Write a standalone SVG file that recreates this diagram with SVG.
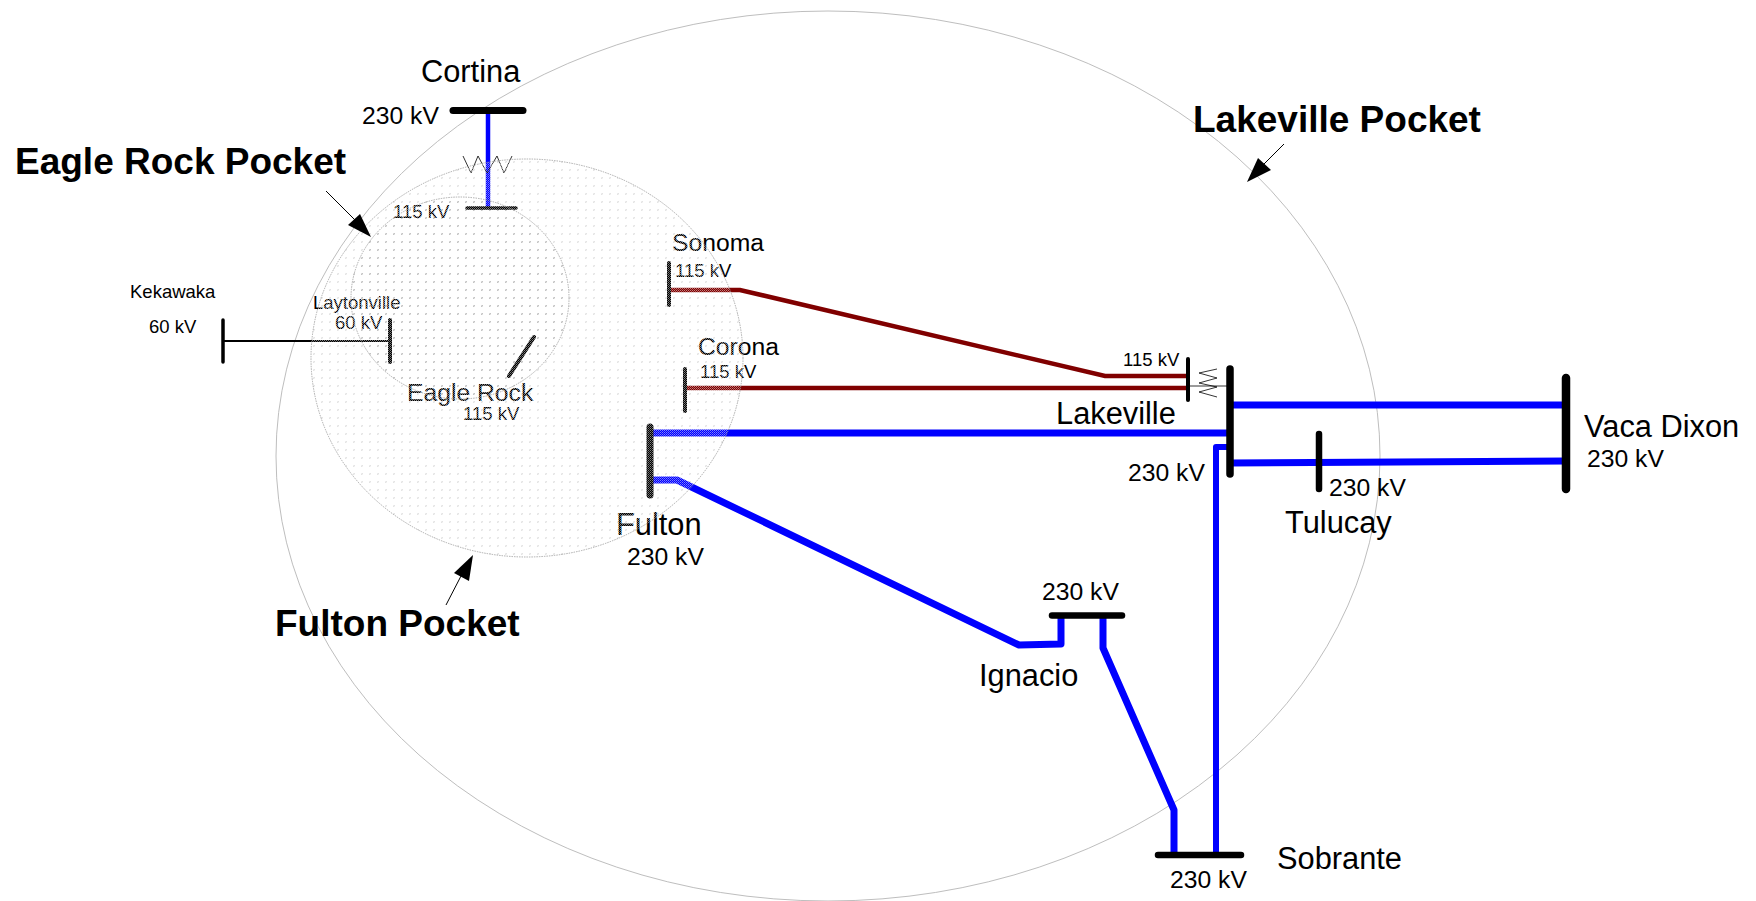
<svg xmlns="http://www.w3.org/2000/svg" width="1756" height="901" viewBox="0 0 1756 901">
<style>
text{font-family:"Liberation Sans",Arial,sans-serif;fill:#000}
.s{font-size:18.500px}.m{font-size:24.700px}.l{font-size:30.800px}.h{font-size:37px;font-weight:bold}
.bus{stroke:#000;stroke-linecap:round;fill:none}
.b{stroke:#00f;fill:none;stroke-linejoin:round}
.r{stroke:#800000;stroke-width:4.500;fill:none}
.z{stroke:#000;stroke-width:.8;fill:none}
.a{stroke:#000;stroke-width:1;fill:none}
.c{stroke:#bebebe;stroke-width:1;fill:none}
.o{stroke:#999;stroke-width:.8;stroke-dasharray:1.500 1}
</style>
<defs>
<pattern id="mesh" width="2" height="2" patternUnits="userSpaceOnUse"><rect width="1" height="1" fill="#fff" opacity=".5"/><rect x="1" y="1" width="1" height="1" fill="#fff" opacity=".35"/></pattern>
<pattern id="dots" width="8" height="8" patternUnits="userSpaceOnUse"><rect x="1" y="1" width="2" height="2" fill="#e4e4e4"/></pattern>
<pattern id="dots2" width="8" height="8" patternUnits="userSpaceOnUse"><rect x="1" y="1" width="2" height="2" fill="#c4c4c4"/></pattern>
</defs>
<rect width="1756" height="901" fill="#fff"/>
<ellipse id="lakeville-pocket" class="c" cx="828" cy="456" rx="552" ry="445"/>
<g id="pocket-fills">
<ellipse cx="527" cy="358" rx="216" ry="199" fill="url(#dots)"/>
<ellipse cx="460" cy="298" rx="109" ry="101" fill="url(#dots2)"/>
</g>
<g id="connectors">
<path class="b" stroke-width="4.500" d="M488 110V208"/>
<path class="z" d="M463 156L471 173L478 156L487 173L497 156L504 173L512 156"/>
<path stroke="#000" stroke-width="2" d="M223 341H390"/>
<path class="r" d="M669 290H740L1105 376H1188"/>
<path class="r" d="M685 388H1188"/>
<path class="z" d="M1188 386H1230M1217 369L1199 373L1217 378L1199 383L1217 387L1199 392L1217 397"/>
<path class="b" stroke-width="7" d="M1230 405H1566"/>
<path class="b" stroke-width="7" d="M650 433H1230"/>
<path class="b" stroke-width="7" d="M1230 463L1566 461"/>
<path class="b" stroke-width="6" d="M1216 855V447H1230"/>
<path class="b" stroke-width="7" d="M650 480H677L1019 645L1061 644V615"/>
<path class="b" stroke-width="7" d="M1103 615V648L1174 810V855"/>
</g>
<g id="cortina"><path class="bus" stroke-width="7" d="M453 110.500H523"/><text class="l" x="421" y="82">Cortina</text><text class="m" x="362" y="124">230 kV</text></g>
<g id="eagle-115"><path class="bus" stroke-width="3.500" d="M467 208H516"/><text class="s" x="393" y="218">115 kV</text></g>
<g id="kekawaka"><path class="bus" stroke-width="3.500" d="M223 320V362"/><text class="s" x="130" y="298">Kekawaka</text><text class="s" x="149" y="333">60 kV</text></g>
<g id="laytonville"><path class="bus" stroke-width="4" d="M390 320V362"/><text class="s" x="313" y="309">Laytonville</text><text class="s" x="335" y="329">60 kV</text></g>
<g id="eagle-rock"><path class="bus" stroke-width="4" d="M509 376L534 337"/><text class="m" x="407" y="401">Eagle Rock</text><text class="s" x="463" y="420">115 kV</text></g>
<g id="sonoma"><path class="bus" stroke-width="4" d="M669 263V305"/><text class="m" x="672" y="251">Sonoma</text><text class="s" x="675" y="277">115 kV</text></g>
<g id="corona"><path class="bus" stroke-width="4" d="M685 369V411"/><text class="m" x="698" y="355">Corona</text><text class="s" x="700" y="378">115 kV</text></g>
<g id="lakeville-115"><path class="bus" stroke-width="4" d="M1188 359V400"/><text class="s" x="1123" y="366">115 kV</text></g>
<g id="lakeville"><path class="bus" stroke-width="7.500" d="M1230 369V474"/><text class="l" x="1056" y="424">Lakeville</text><text class="m" x="1128" y="481">230 kV</text></g>
<g id="tulucay"><path class="bus" stroke-width="6.500" d="M1319 434V489"/><text class="m" x="1329" y="496">230 kV</text><text class="l" x="1285" y="533">Tulucay</text></g>
<g id="vaca-dixon"><path class="bus" stroke-width="8.500" d="M1566 378V489"/><text class="l" x="1584" y="437">Vaca Dixon</text><text class="m" x="1587" y="467">230 kV</text></g>
<g id="fulton"><path class="bus" stroke-width="7" d="M650 427V495"/><text class="l" x="616" y="535">Fulton</text><text class="m" x="627" y="565">230 kV</text></g>
<g id="ignacio"><path class="bus" stroke-width="6.500" d="M1052 615.500H1122"/><text class="m" x="1042" y="600">230 kV</text><text class="l" x="979" y="686">Ignacio</text></g>
<g id="sobrante"><path class="bus" stroke-width="6.500" d="M1158 855H1241"/><text class="l" x="1277" y="869">Sobrante</text><text class="m" x="1170" y="888">230 kV</text></g>
<g id="overlays">
<ellipse cx="527" cy="358" rx="216" ry="199" fill="url(#mesh)" class="o"/>
<ellipse cx="460" cy="298" rx="109" ry="101" fill="none" class="o"/>
</g>
<g id="pocket-labels">
<path class="a" d="M326 191L356 221"/><path d="M371 237L348 225L360 214Z"/>
<text class="h" x="15" y="174">Eagle Rock Pocket</text>
<path class="a" d="M1284 144L1263 165"/><path d="M1247 182L1258 158L1271 170Z"/>
<text class="h" x="1193" y="132">Lakeville Pocket</text>
<path class="a" d="M446 605L461 576"/><path d="M473 555L469 581L454 573Z"/>
<text class="h" x="275" y="636">Fulton Pocket</text>
</g>
</svg>
